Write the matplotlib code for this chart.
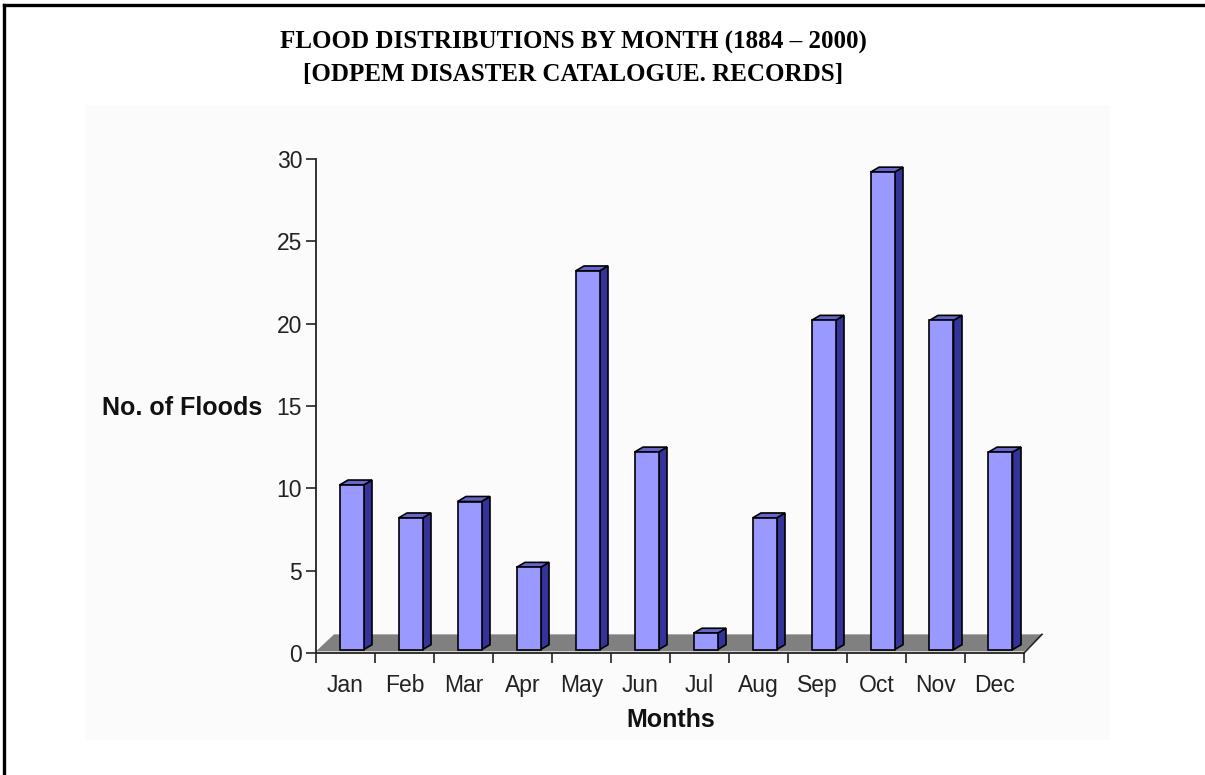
import matplotlib
matplotlib.use("Agg")
import matplotlib.pyplot as plt
from matplotlib.patches import Polygon, Rectangle
from matplotlib.lines import Line2D

months = ["Jan", "Feb", "Mar", "Apr", "May", "Jun",
          "Jul", "Aug", "Sep", "Oct", "Nov", "Dec"]
floods = [10, 8, 9, 5, 23, 12, 1, 8, 20, 29, 20, 12]
y_ticks = [0, 5, 10, 15, 20, 25, 30]

W, H = 1205, 775
fig = plt.figure(figsize=(W / 100, H / 100), dpi=100)
fig.patch.set_facecolor("white")

# faint chart-area background
fig.add_artist(Rectangle((85 / W, 1 - 740 / H), (1110 - 85) / W, (740 - 105) / H,
                         transform=fig.transFigure, facecolor="#fbfbfb",
                         edgecolor="none", zorder=-10))

# page frame (top and left rules)
fig.add_artist(Line2D([4 / W, 1.0], [1 - 5 / H, 1 - 5 / H], transform=fig.transFigure,
                      color="black", lw=2.4, zorder=10))
fig.add_artist(Line2D([4 / W, 4 / W], [0, 1 - 5 / H], transform=fig.transFigure,
                      color="black", lw=2.4, zorder=10))

px_cat = 59.0
x_max = 12.35
ax_left, ax_bottom = 316, 653
ax_top = 159
ax = fig.add_axes([ax_left / W, 1 - ax_bottom / H, x_max * px_cat / W, (ax_bottom - ax_top) / H])
ax.set_facecolor("none")
ax.set_xlim(0, x_max)
ax.set_ylim(0, 30)

px_val = (ax_bottom - ax_top) / 30.0

# depth offsets in data units
floor_dx = 18 / px_cat
floor_dy = 17 / px_val
floor_y0 = 0.1
bar_base = 0.2
side_dx = 8.5 / px_cat
side_dy = 5 / px_val
face_w = 24 / px_cat
face_shift = -6 / px_cat

n = len(months)

# gray floor
floor = Polygon([(0, floor_y0), (n, floor_y0), (n + floor_dx, floor_y0 + floor_dy),
                 (floor_dx, floor_y0 + floor_dy)], closed=True,
                facecolor="#808080", edgecolor="none", zorder=1, clip_on=False)
ax.add_patch(floor)
ax.plot([n, n + floor_dx], [0, floor_dy + floor_y0], color="#222222", lw=1.2,
        zorder=2, clip_on=False)

for i, v in enumerate(floods):
    left = i + 0.5 + face_shift
    right = left + face_w
    bottom = bar_base
    top = v + bar_base
    side = Polygon([(right, bottom), (right + side_dx, bottom + side_dy),
                    (right + side_dx, top + side_dy), (right, top)], closed=True,
                   facecolor="#333399", edgecolor="black", lw=1.2, zorder=3, clip_on=False)
    lid = Polygon([(left, top), (right, top), (right + side_dx, top + side_dy),
                   (left + side_dx, top + side_dy)], closed=True,
                  facecolor="#6666cc", edgecolor="black", lw=1.2, zorder=3, clip_on=False)
    front = Rectangle((left, bottom), face_w, top - bottom,
                      facecolor="#9999ff", edgecolor="black", lw=1.2, zorder=4, clip_on=False)
    ax.add_patch(side)
    ax.add_patch(lid)
    ax.add_patch(front)

for s in ["top", "right"]:
    ax.spines[s].set_visible(False)
ax.spines["left"].set_color("#222222")
ax.spines["bottom"].set_color("#222222")
ax.spines["left"].set_linewidth(1.3)
ax.spines["bottom"].set_linewidth(1.3)
ax.spines["bottom"].set_bounds(0, n)
ax.spines["left"].set_zorder(5)
ax.spines["bottom"].set_zorder(5)

tick_font = dict(family="Liberation Sans", size=16.5)
ax.set_yticks(y_ticks)
ax.set_yticklabels([str(t) for t in y_ticks], fontdict=tick_font, color="#222222")
ax.tick_params(axis="y", direction="out", length=7, width=1.2, pad=3, colors="#222222")

ax.set_xticks(range(n + 1))
ax.set_xticklabels([])
ax.tick_params(axis="x", which="major", direction="out", length=7, width=1.2, colors="#222222")
ax.set_xticks([i + 0.5 for i in range(n)], minor=True)
ax.set_xticklabels(months, minor=True, fontdict=tick_font, color="#222222")
ax.tick_params(axis="x", which="minor", length=0, pad=15)

fig.text(262 / W, 1 - 408 / H, "No. of Floods", ha="right", va="center",
         family="Liberation Sans", fontweight="bold", fontsize=18, color="#111111")
fig.text(671 / W, 1 - 720 / H, "Months", ha="center", va="center",
         family="Liberation Sans", fontweight="bold", fontsize=18, color="#111111")

fig.text(573 / W, 1 - 42 / H, "FLOOD DISTRIBUTIONS BY MONTH (1884 \u2013 2000)",
         ha="center", va="center", family="Liberation Serif", fontweight="bold",
         fontsize=18, color="black")
fig.text(573 / W, 1 - 74 / H, "[ODPEM DISASTER CATALOGUE. RECORDS]",
         ha="center", va="center", family="Liberation Serif", fontweight="bold",
         fontsize=18, color="black")

fig.savefig("out.png", dpi=100, facecolor="white")
